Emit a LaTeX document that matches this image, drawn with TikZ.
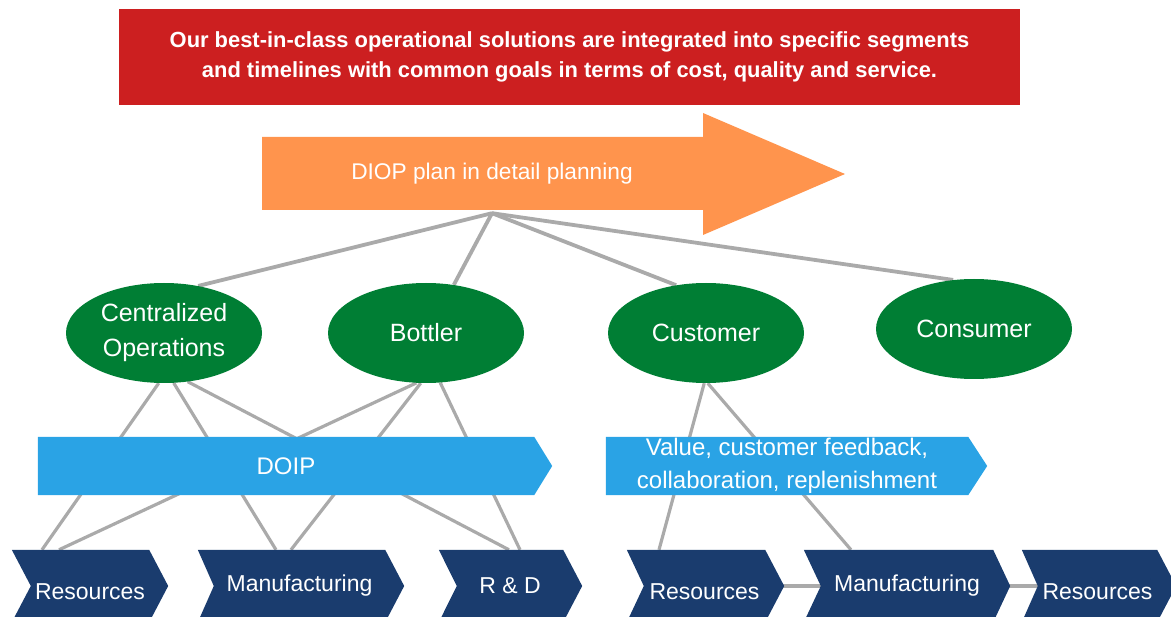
\documentclass[tikz,border=0pt]{standalone}
\usepackage{fontspec}
\setmainfont{Liberation Sans}
\usetikzlibrary{shapes.geometric,calc}
\pgfdeclarelayer{bg}
\pgfdeclarelayer{mid}
\pgfsetlayers{bg,mid,main}
\definecolor{topred}{RGB}{204,31,32}
\definecolor{planorange}{RGB}{255,148,77}
\definecolor{ogreen}{RGB}{0,126,52}
\definecolor{skyblue}{RGB}{42,163,229}
\definecolor{navyblue}{RGB}{26,60,110}
\definecolor{lgray}{RGB}{170,170,170}
% #1 node name, #2 notch depth, #3 tip depth, #4 colour
\newcommand{\mychev}[4]{%
  \begin{pgfonlayer}{mid}
    \fill[#4] ([xshift=-#2pt]#1.north west) -- (#1.north east) -- ([xshift=#3pt]#1.east)
      -- (#1.south east) -- ([xshift=-#2pt]#1.south west) -- (#1.west) -- cycle;
  \end{pgfonlayer}}
\begin{document}
\begin{tikzpicture}[x=1pt,y=-1pt,
  oval/.style={ellipse, fill=ogreen, minimum width=196pt, minimum height=100pt,
    inner sep=0pt, text=white, align=center, font=\fontsize{25}{35}\selectfont},
  bandbox/.style={rectangle, inner sep=0pt, minimum height=58pt, text=white,
    align=center, font=\fontsize{24}{33}\selectfont},
  stagebox/.style={rectangle, inner sep=0pt, minimum height=72pt, text=white,
    font=\fontsize{23}{27}\selectfont},
  lowtext/.style={text height=27pt, text depth=0pt},
  link/.style={draw=lgray, line width=3.2pt},
  toplink/.style={draw=lgray, line width=3.8pt}]
\useasboundingbox (0,0) rectangle (1171,617);

% top banner
\node[fill=topred, minimum width=901pt, minimum height=96pt, inner sep=0pt,
  text=white, align=center, font=\bfseries\fontsize{21.9}{30}\selectfont]
  (banner) at (569.5,57)
  {Our best-in-class operational solutions are integrated into specific segments\\
   and timelines with common goals in terms of cost, quality and service.};

% orange arrow
\fill[planorange] (262,137) -- (703,137) -- (703,113) -- (845,174) -- (703,235)
  -- (703,210) -- (262,210) -- cycle;
\node[inner sep=0pt, minimum height=78pt, text=white,
  font=\fontsize{22.7}{27}\selectfont] (plan) at (492,174) {DIOP plan in detail planning};

% ellipses
\node[oval] (co)  at (164,333) {Centralized\\Operations};
\node[oval] (bot) at (426,333) {Bottler};
\node[oval] (cus) at (706,333) {Customer};
\node[oval] (con) at (974,329) {Consumer};

% light blue bands
\node[bandbox, minimum width=496pt] (doip) at (286,466) {DOIP};
\mychev{doip}{0}{18}{skyblue}
\node[bandbox, minimum width=362pt] (val) at (787,466)
  {Value, customer feedback,\\collaboration, replenishment};
\mychev{val}{0}{19}{skyblue}

% bottom stages
\node[stagebox, lowtext, minimum width=118pt] (r1) at (90,586) {Resources};
\mychev{r1}{19}{19}{navyblue}
\node[stagebox, minimum width=171pt] (m2) at (299.5,586) {Manufacturing};
\mychev{m2}{16}{19}{navyblue}
\node[stagebox, minimum width=106pt] (d3) at (510,586) {R \& D};
\mychev{d3}{18}{19}{navyblue}
\node[stagebox, lowtext, minimum width=121pt] (r4) at (704.5,586) {Resources};
\mychev{r4}{17}{19}{navyblue}
\node[stagebox, minimum width=172pt] (m5) at (907,586) {Manufacturing};
\mychev{m5}{17}{17}{navyblue}
\node[stagebox, lowtext, minimum width=119pt] (r6) at (1097.5,586) {Resources};
\mychev{r6}{16}{19}{navyblue}

% connectors
\begin{pgfonlayer}{bg}
  \draw[toplink] (plan.south) -- (co.54);
  \draw[toplink] (plan.south) -- (bot.60);
  \draw[toplink] (plan.south) -- (cus.122);
  \draw[toplink] (plan.south) -- (con.113);

  \draw[link] (co.264) -- ([xshift=-48pt]r1.north);
  \draw[link] (co.281) -- ([xshift=-23.5pt]m2.north);
  \draw[link] (co.296) -- ([xshift=-1pt]d3.north);
  \draw[link] (bot.259) -- ([xshift=-31pt]r1.north);
  \draw[link] (bot.264) -- ([xshift=-8.5pt]m2.north);
  \draw[link] (bot.286) -- ([xshift=10pt]d3.north);
  \draw[link] (cus.268) -- ([xshift=-45.5pt]r4.north);
  \draw[link] (cus.272) -- ([xshift=-56pt]m5.north);

  \draw[link] (r4.east) -- (m5.west);
  \draw[link] (m5.east) -- (r6.west);
\end{pgfonlayer}
\end{tikzpicture}
\end{document}
